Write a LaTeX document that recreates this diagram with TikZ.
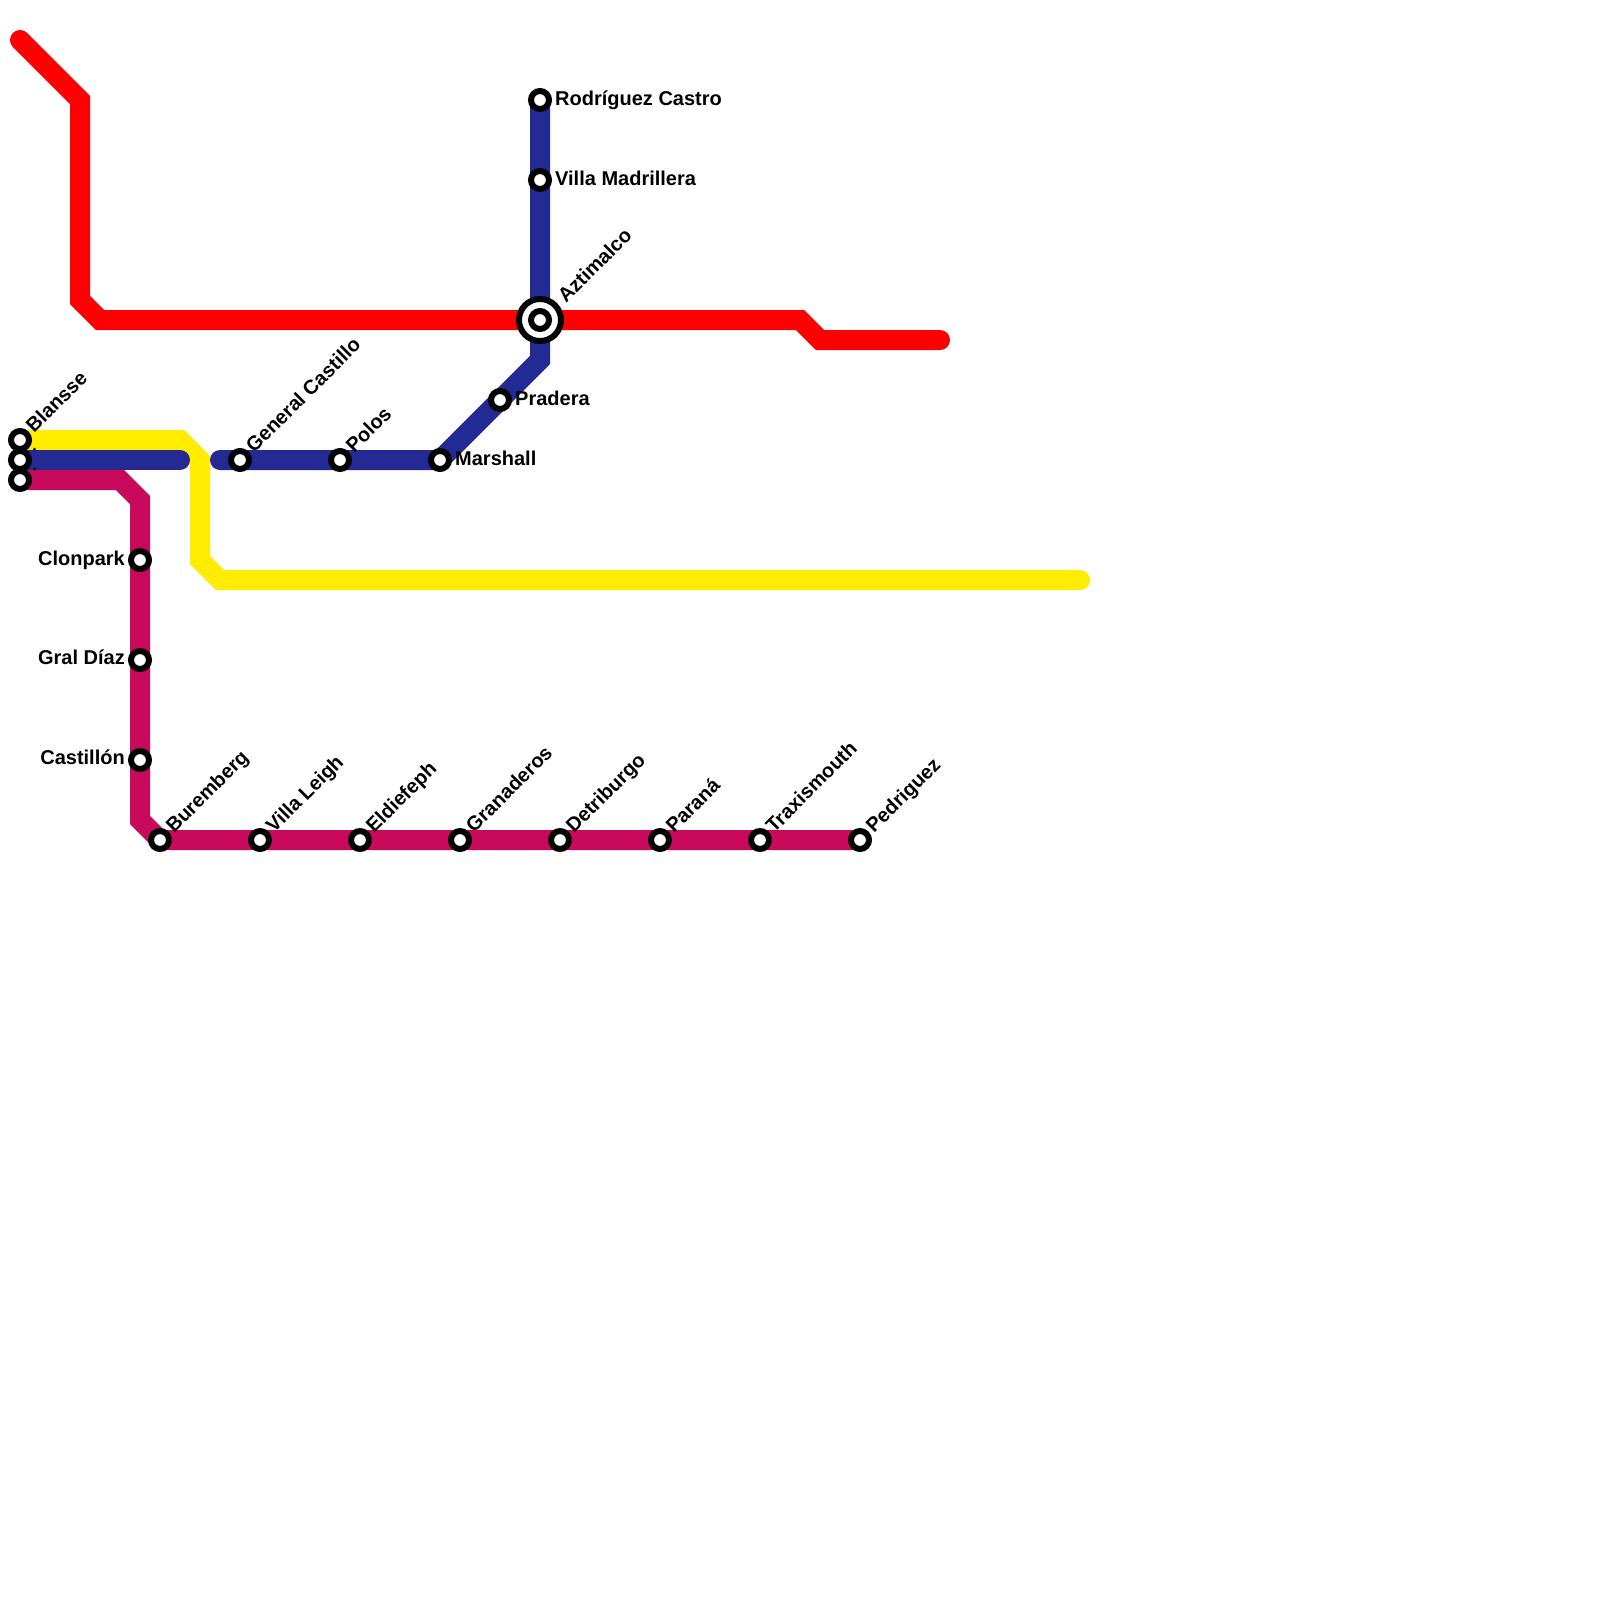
\documentclass[tikz,border=0pt]{standalone}
\usepackage{fontspec}
\setmainfont{Liberation Sans}
\definecolor{lred}{HTML}{FF0000}
\definecolor{lblue}{HTML}{232A94}
\definecolor{lyellow}{HTML}{FFEC00}
\definecolor{lmag}{HTML}{C90A5C}
\tikzset{
  metro/.style={line width=20pt,line cap=round,line join=miter,miter limit=10},
  stn/.style={circle,draw=black,fill=white,line width=6pt,minimum size=18pt,inner sep=0pt,outer sep=0pt},
  hub/.style={circle,draw=black,fill=white,line width=6pt,minimum size=42pt,inner sep=0pt,outer sep=0pt},
  lab/.style={font=\fontsize{20}{22}\selectfont\bfseries,inner sep=0pt,text=black},
  rlab/.style={lab,anchor=base west},
  llab/.style={lab,anchor=base east},
  dlab/.style={lab,anchor=base west,rotate=45},
  speck/.style={circle,fill=black,inner sep=0pt,minimum size=3pt}
}
\begin{document}
\begin{tikzpicture}[x=1pt,y=-1pt]
\useasboundingbox (0,0) rectangle (1600,1600);
% red
\coordinate (r0) at (20,40);\coordinate (r1) at (80,100);\coordinate (r2) at (80,300);\coordinate (r3) at (100,320);
\coordinate (r4) at (800,320);\coordinate (r5) at (820,340);\coordinate (r6) at (940,340);
% yellow
\coordinate (y1) at (180,440);\coordinate (y2) at (200,460);\coordinate (y3) at (200,560);\coordinate (y4) at (220,580);\coordinate (y5) at (1080,580);
% blue
\coordinate (b1) at (180,460);\coordinate (b2) at (220,460);\coordinate (b3) at (540,360);
% magenta
\coordinate (m1) at (120,480);\coordinate (m2) at (140,500);\coordinate (m3) at (140,820);
% stations on coordinates first
\coordinate (cBlanY) at (20,440);\coordinate (cBlanB) at (20,460);\coordinate (cBlanM) at (20,480);
\coordinate (cRod) at (540,100);\coordinate (cAzt) at (540,320);\coordinate (cMar) at (440,460);
\coordinate (cBur) at (160,840);\coordinate (cPed) at (860,840);
\draw[metro,lmag] (cBlanM)--(m1)--(m2)--(m3)--(cBur)--(cPed);
\draw[metro,lyellow] (cBlanY)--(y1)--(y2)--(y3)--(y4)--(y5);
\draw[metro,lblue] (cBlanB)--(b1);
\draw[metro,lblue] (b2)--(cMar)--(b3)--(cRod);
\draw[metro,lred] (r0)--(r1)--(r2)--(r3)--(r4)--(r5)--(r6);
% specks
\node[speck] (s1) at (34.5,449) {};
\node[speck] (s2) at (34.5,469) {};
% stations
\node[stn] (blanM) at (cBlanM) {};
\node[stn] (blanY) at (cBlanY) {};
\node[stn] (blanB) at (cBlanB) {};
\node[stn] (clon) at (140,560) {};
\node[stn] (gral) at (140,660) {};
\node[stn] (cast) at (140,760) {};
\node[stn] (bure) at (cBur) {};
\node[stn] (vill) at (260,840) {};
\node[stn] (eldi) at (360,840) {};
\node[stn] (gran) at (460,840) {};
\node[stn] (detr) at (560,840) {};
\node[stn] (para) at (660,840) {};
\node[stn] (trax) at (760,840) {};
\node[stn] (pedr) at (cPed) {};
\node[stn] (gene) at (240,460) {};
\node[stn] (polo) at (340,460) {};
\node[stn] (mars) at (cMar) {};
\node[stn] (prad) at (500,400) {};
\node[hub] (azth) at (cAzt) {};
\node[stn] (azti) at (cAzt) {};
\node[stn] (vmad) at (540,180) {};
\node[stn] (rodr) at (cRod) {};
% labels
\node[rlab] (l1) at (555,105.5) {Rodríguez Castro};
\node[rlab] (l2) at (555,185) {Villa Madrillera};
\node[rlab] (l3) at (515,405) {Pradera};
\node[rlab] (l4) at (455,465) {Marshall};
\node[llab] (l5) at (125,565) {Clonpark};
\node[llab] (l6) at (125,664.5) {Gral Díaz};
\node[llab] (l7) at (125,764.5) {Castillón};
\node[dlab] (l8) at (34,434) {Blansse};
\node[dlab] (l9) at (254,454) {General Castillo};
\node[dlab] (l10) at (354,454) {Polos};
\node[dlab] (l11) at (566,304) {Aztimalco};
\node[dlab] (l12) at (174,834) {Buremberg};
\node[dlab] (l13) at (274,834) {Villa Leigh};
\node[dlab] (l14) at (374,834) {Eldiefeph};
\node[dlab] (l15) at (474,834) {Granaderos};
\node[dlab] (l16) at (574,834) {Detriburgo};
\node[dlab] (l17) at (674,834) {Paraná};
\node[dlab] (l18) at (774,834) {Traxismouth};
\node[dlab] (l19) at (874,834) {Pedriguez};
\end{tikzpicture}
\end{document}
